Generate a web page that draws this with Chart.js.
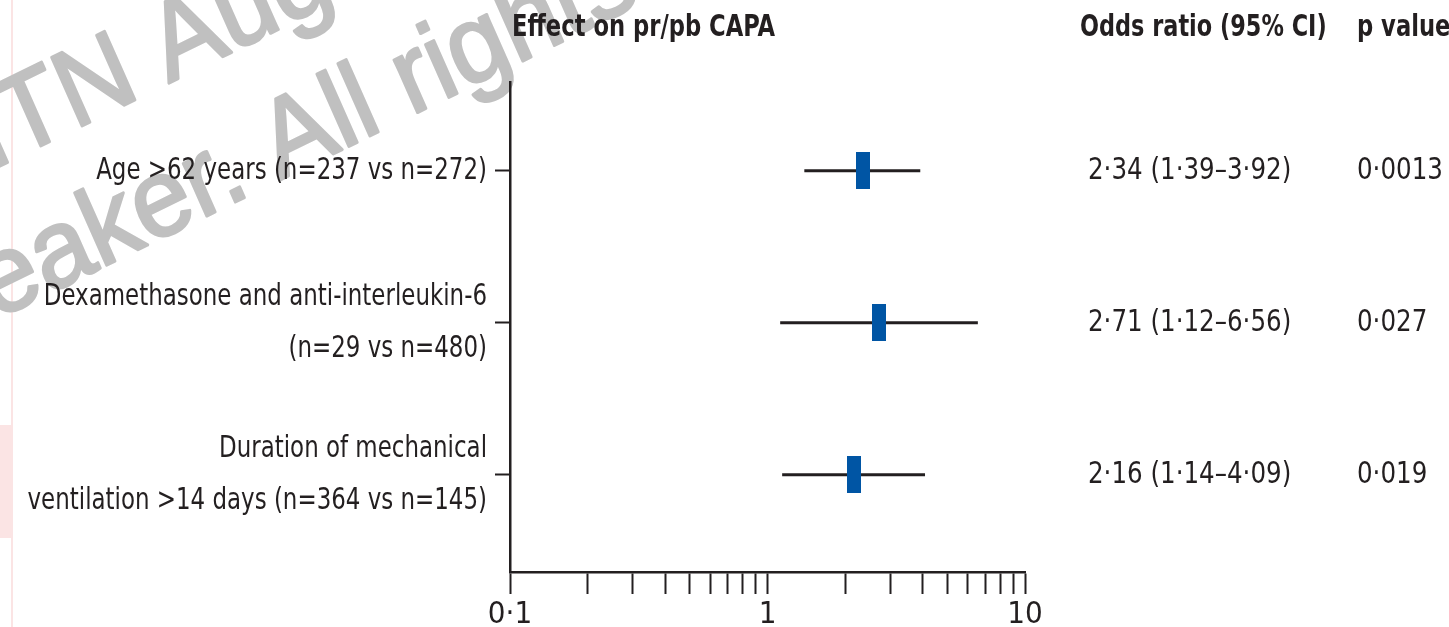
<!DOCTYPE html>
<html>
<head>
<meta charset="utf-8">
<script src="https://cdn.jsdelivr.net/npm/chart.js@4.4.1/dist/chart.umd.min.js"></script>
<style>
  html, body { margin: 0; padding: 0; background: #ffffff; }
  #wrap { position: relative; width: 1449px; height: 627px; }
  canvas { display: block; }
</style>
</head>
<body>
<div id="wrap"><canvas id="c" width="1449" height="627"></canvas></div>
<script>
// ---- data ----
const rowLabels = [
  ['Age >62 years (n=237 vs n=272)'],
  ['Dexamethasone and anti-interleukin-6', '(n=29 vs n=480)'],
  ['Duration of mechanical', 'ventilation >14 days (n=364 vs n=145)']
];
const oddsRatios = [2.34, 2.71, 2.16];
const ciLower = [1.39, 1.12, 1.14];
const ciUpper = [3.92, 6.56, 4.09];
const orText = ['2·34 (1·39–3·92)', '2·71 (1·12–6·56)', '2·16 (1·14–4·09)'];
const pText = ['0·0013', '0·027', '0·019'];
const xTickLabels = { 0.1: '0·1', 1: '1', 10: '10' };
const titleLeft = 'Effect on pr/pb CAPA';
const titleOR = 'Odds ratio (95% CI)';
const titleP = 'p value';
const watermarkLines = ['ITN Aug', 'eaker. All rights'];

// ---- styles ----
const FONT = "'DejaVu Sans Condensed', 'Liberation Sans Narrow', sans-serif";
const INK = '#231f20';
const BLUE = '#0055a4';

const boxCanvas = document.createElement('canvas');
boxCanvas.width = 14; boxCanvas.height = 37;
(function () {
  const g = boxCanvas.getContext('2d');
  g.fillStyle = BLUE;
  g.fillRect(0, 0, 14, 37);
})();

const rowIdx = rowLabels.map((_, i) => i + 1);

const ciDatasets = rowIdx.map((r, i) => ({
  type: 'line',
  data: [{ x: ciLower[i], y: r }, { x: ciUpper[i], y: r }],
  borderColor: INK,
  borderWidth: 3,
  pointRadius: 0,
  fill: false,
  order: 2
}));

const boxDataset = {
  type: 'scatter',
  data: rowIdx.map((r, i) => ({ x: oddsRatios[i], y: r })),
  pointStyle: boxCanvas,
  pointRadius: 10,
  order: 0
};

function squeezedText(ctx, text, x, y, align, sx) {
  ctx.save();
  ctx.translate(x, y);
  ctx.scale(sx, 1);
  ctx.textAlign = align;
  ctx.fillText(text, 0, 0);
  ctx.restore();
}

const decorPlugin = {
  id: 'decor',
  beforeDraw(chart) {
    const ctx = chart.ctx;
    ctx.save();
    // pink stripe at left edge
    ctx.fillStyle = '#fbe4e4';
    ctx.fillRect(11, 0, 2, 627);
    ctx.fillRect(0, 425, 13, 113);
    // watermark
    ctx.fillStyle = '#c0c0c0';
    ctx.strokeStyle = '#c0c0c0';
    ctx.lineWidth = 3;
    ctx.lineJoin = 'round';
    ctx.font = "110px 'Liberation Sans', Arial, sans-serif";
    ctx.textBaseline = 'alphabetic';
    const wm = [[-10, 171], [-5, 320]];
    wm.forEach((p, i) => {
      ctx.save();
      ctx.translate(p[0], p[1]);
      ctx.scale(0.95, 1);
      ctx.rotate(-25 * Math.PI / 180);
      ctx.fillText(watermarkLines[i], 0, 0);
      ctx.strokeText(watermarkLines[i], 0, 0);
      ctx.restore();
    });
    ctx.restore();
  },
  afterDraw(chart) {
    const ctx = chart.ctx;
    const ys = chart.scales.y;
    ctx.save();
    ctx.fillStyle = INK;
    ctx.textBaseline = 'middle';
    ctx.font = 'bold 30px ' + FONT;
    squeezedText(ctx, titleLeft, 512, 28, 'left', 0.84);
    squeezedText(ctx, titleOR, 1080, 28, 'left', 0.83);
    squeezedText(ctx, titleP, 1357, 28, 'left', 0.84);
    ctx.font = '30px ' + FONT;
    rowIdx.forEach((r, i) => {
      const y = ys.getPixelForValue(r);
      squeezedText(ctx, orText[i], 1088, y, 'left', 0.91);
      squeezedText(ctx, pText[i], 1357, y, 'left', 0.91);
      const lines = rowLabels[i];
      const lh = 52;
      const y0 = y - (lines.length - 1) * lh / 2;
      lines.forEach((ln, k) => squeezedText(ctx, ln, 487, y0 + k * lh, 'right', 0.85));
    });
    ctx.restore();
  }
};

new Chart(document.getElementById('c'), {
  data: { datasets: [...ciDatasets, boxDataset] },
  options: {
    responsive: false,
    animation: false,
    events: [],
    layout: { padding: { top: 82, right: 424, bottom: 0, left: 0 } },
    plugins: { legend: { display: false }, tooltip: { enabled: false } },
    scales: {
      x: {
        type: 'logarithmic',
        min: 0.1,
        max: 10,
        afterFit(s) { s.height = 55; },
        afterBuildTicks(s) {
          const t = [];
          [0.1, 1].forEach(d => { for (let k = 1; k <= 9; k++) t.push({ value: +(d * k).toFixed(2) }); });
          t.push({ value: 10 });
          s.ticks = t;
        },
        border: { display: true, color: INK, width: 2.5 },
        grid: { drawOnChartArea: false, drawTicks: true, tickLength: 22, tickWidth: 2, color: INK },
        ticks: {
          autoSkip: false,
          maxRotation: 0,
          padding: 2,
          color: INK,
          font: { family: FONT, size: 31 },
          callback: (v) => xTickLabels[v] !== undefined ? xTickLabels[v] : ''
        }
      },
      y: {
        type: 'linear',
        reverse: true,
        min: 0.416,
        max: 3.64,
        afterFit(s) { s.width = 510; },
        afterBuildTicks(s) { s.ticks = rowIdx.map(v => ({ value: v })); },
        border: { display: true, color: INK, width: 2.5 },
        grid: { drawOnChartArea: false, drawTicks: true, tickLength: 15, tickWidth: 2, color: INK },
        ticks: { display: false }
      }
    }
  },
  plugins: [decorPlugin]
});
</script>
</body>
</html>
